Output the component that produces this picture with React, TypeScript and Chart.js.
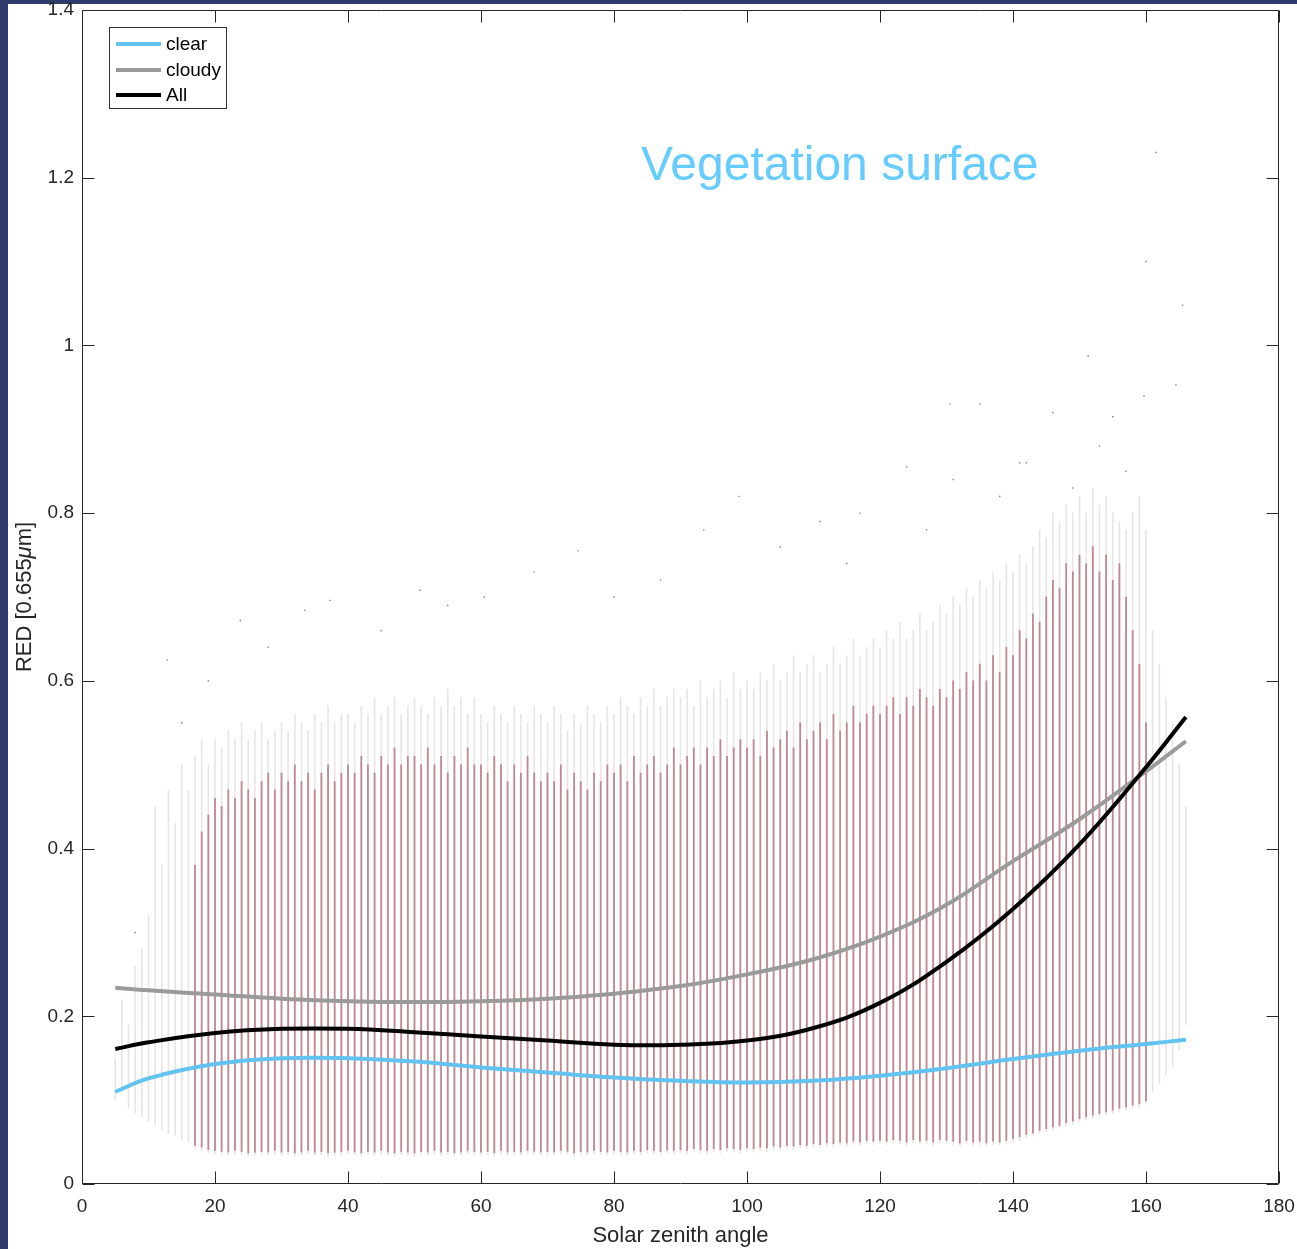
import React, { useEffect, useRef } from 'react';
import { Chart, registerables } from 'chart.js';

Chart.register(...registerables);

// Solar zenith angle columns (one column of observations per degree)
const angles: number[] = Array.from({ length: 162 }, (_, i) => 5 + i);

// lower edge of each column of points
const colLow: number[] = [
  0.10, 0.11, 0.09, 0.085, 0.08,
  0.075, 0.07, 0.065, 0.06, 0.058, 0.052, 0.05, 0.042, 0.04, 0.037,
  0.036, 0.035, 0.034, 0.036, 0.035, 0.033, 0.034, 0.035, 0.034, 0.036,
  0.034, 0.035, 0.033, 0.034, 0.036, 0.034, 0.035, 0.033, 0.034, 0.035,
  0.036, 0.034, 0.033, 0.035, 0.034, 0.036, 0.034, 0.033, 0.035, 0.034,
  0.033, 0.035, 0.034, 0.036, 0.034, 0.035, 0.033, 0.034, 0.036, 0.035,
  0.034, 0.035, 0.033, 0.036, 0.034, 0.035, 0.034, 0.036, 0.035, 0.034,
  0.035, 0.034, 0.036, 0.035, 0.033, 0.035, 0.034, 0.036, 0.035, 0.034,
  0.036, 0.035, 0.034, 0.036, 0.035, 0.037, 0.036, 0.035, 0.037, 0.036,
  0.037, 0.036, 0.038, 0.037, 0.036, 0.038, 0.037, 0.039, 0.038, 0.037,
  0.039, 0.038, 0.040, 0.039, 0.041, 0.040, 0.042, 0.041, 0.043, 0.042,
  0.044, 0.043, 0.045, 0.044, 0.046, 0.045, 0.047, 0.046, 0.048, 0.047,
  0.048, 0.047, 0.049, 0.048, 0.046, 0.049, 0.047, 0.048, 0.046, 0.049,
  0.048, 0.047, 0.045, 0.048, 0.046, 0.047, 0.045, 0.047, 0.046, 0.048,
  0.050, 0.052, 0.055, 0.057, 0.060, 0.062, 0.064, 0.066, 0.069, 0.071,
  0.074, 0.076, 0.078, 0.080, 0.082, 0.084, 0.086, 0.088, 0.090, 0.092,
  0.095, 0.11, 0.12, 0.13, 0.14, 0.16, 0.19,
];

// upper edge of the dense (red) part of each column
const denseHigh: (number | null)[] = [
  null, null, null, null, null,
  null, null, null, null, null, null, null, 0.38, 0.42, 0.44,
  0.46, 0.45, 0.47, 0.46, 0.48, 0.47, 0.46, 0.48, 0.49, 0.47,
  0.49, 0.48, 0.50, 0.48, 0.49, 0.47, 0.49, 0.50, 0.48, 0.49,
  0.50, 0.49, 0.51, 0.50, 0.49, 0.51, 0.50, 0.52, 0.50, 0.51,
  0.51, 0.50, 0.52, 0.50, 0.51, 0.49, 0.51, 0.50, 0.52, 0.50,
  0.50, 0.49, 0.51, 0.50, 0.48, 0.50, 0.49, 0.51, 0.49, 0.48,
  0.49, 0.48, 0.50, 0.47, 0.49, 0.48, 0.47, 0.49, 0.48, 0.50,
  0.49, 0.50, 0.48, 0.51, 0.49, 0.50, 0.51, 0.49, 0.50, 0.52,
  0.50, 0.51, 0.52, 0.50, 0.52, 0.51, 0.53, 0.51, 0.52, 0.53,
  0.52, 0.53, 0.51, 0.54, 0.52, 0.53, 0.54, 0.52, 0.55, 0.53,
  0.54, 0.55, 0.53, 0.56, 0.54, 0.55, 0.57, 0.55, 0.56, 0.57,
  0.56, 0.57, 0.58, 0.56, 0.58, 0.57, 0.59, 0.58, 0.57, 0.59,
  0.58, 0.60, 0.59, 0.61, 0.60, 0.62, 0.60, 0.63, 0.61, 0.64,
  0.63, 0.66, 0.65, 0.68, 0.67, 0.70, 0.72, 0.71, 0.74, 0.73,
  0.75, 0.74, 0.76, 0.73, 0.75, 0.72, 0.74, 0.70, 0.66, 0.62,
  0.55, null, null, null, null, null, null,
];

// upper edge of the sparse scattered part of each column
const sparseHigh: number[] = [
  0.15, 0.22, 0.19, 0.26, 0.28,
  0.32, 0.45, 0.38, 0.47, 0.43, 0.50, 0.47, 0.51, 0.53, 0.50,
  0.53, 0.52, 0.54, 0.53, 0.55, 0.53, 0.54, 0.55, 0.53, 0.54,
  0.55, 0.54, 0.56, 0.55, 0.54, 0.56, 0.55, 0.57, 0.55, 0.56,
  0.56, 0.55, 0.57, 0.56, 0.58, 0.56, 0.57, 0.58, 0.56, 0.57,
  0.58, 0.57, 0.56, 0.58, 0.57, 0.59, 0.57, 0.58, 0.56, 0.58,
  0.56, 0.55, 0.57, 0.56, 0.55, 0.57, 0.56, 0.55, 0.57, 0.56,
  0.55, 0.57, 0.56, 0.54, 0.56, 0.55, 0.57, 0.56, 0.55, 0.57,
  0.56, 0.58, 0.57, 0.56, 0.58, 0.57, 0.59, 0.57, 0.58, 0.59,
  0.58, 0.59, 0.57, 0.60, 0.58, 0.59, 0.60, 0.58, 0.61, 0.59,
  0.60, 0.59, 0.61, 0.60, 0.62, 0.60, 0.61, 0.63, 0.61, 0.62,
  0.63, 0.61, 0.62, 0.64, 0.62, 0.63, 0.65, 0.63, 0.64, 0.65,
  0.64, 0.66, 0.65, 0.67, 0.65, 0.66, 0.68, 0.66, 0.67, 0.69,
  0.68, 0.70, 0.69, 0.71, 0.70, 0.72, 0.71, 0.73, 0.72, 0.74,
  0.73, 0.75, 0.74, 0.76, 0.78, 0.77, 0.80, 0.79, 0.81, 0.80,
  0.82, 0.80, 0.83, 0.81, 0.82, 0.80, 0.79, 0.78, 0.80, 0.82,
  0.78, 0.66, 0.62, 0.58, 0.55, 0.50, 0.45,
];

// isolated points above the clouds
const outlierAngles: number[] = [
  161.5, 160, 165.5, 164.5, 159.7, 151.3, 155, 135, 130.5, 142, 141, 124, 131,
  98.8, 111, 74.6, 87, 50.8, 37.3, 33.5, 23.8, 12.8, 60.5, 68, 93.5, 105, 117,
  146, 153, 157, 149, 45, 28, 19, 15, 8, 55, 80, 115, 127, 138,
];
const outlierValues: number[] = [
  1.23, 1.10, 1.048, 0.953, 0.94, 0.987, 0.915, 0.93, 0.93, 0.86, 0.86, 0.855, 0.84,
  0.82, 0.79, 0.755, 0.72, 0.708, 0.696, 0.684, 0.672, 0.625, 0.70, 0.73, 0.78, 0.76, 0.80,
  0.92, 0.88, 0.85, 0.83, 0.66, 0.64, 0.60, 0.55, 0.30, 0.69, 0.70, 0.74, 0.78, 0.82,
];

// polynomial fits
const fitAngles: number[] = [5, 10, 20, 30, 40, 50, 60, 70, 80, 90, 100, 110, 120, 130, 140, 150, 160, 166];
const clearFit: number[] = [0.110, 0.126, 0.143, 0.150, 0.150, 0.146, 0.139, 0.133, 0.127, 0.123, 0.121, 0.123, 0.129, 0.138, 0.149, 0.159, 0.167, 0.172];
const cloudyFit: number[] = [0.234, 0.231, 0.226, 0.221, 0.218, 0.217, 0.218, 0.221, 0.227, 0.236, 0.250, 0.268, 0.295, 0.333, 0.385, 0.435, 0.492, 0.528];
const allFit: number[] = [0.161, 0.169, 0.180, 0.185, 0.185, 0.181, 0.176, 0.171, 0.166, 0.166, 0.171, 0.186, 0.216, 0.265, 0.328, 0.405, 0.497, 0.557];

const seriesNames = ['clear', 'cloudy', 'All'];
const seriesColors = ['#62c2f0', '#9a9a9a', '#000000'];

const xTickValues: number[] = [0, 20, 40, 60, 80, 100, 120, 140, 160, 180];
const yTickValues: number[] = [0, 0.2, 0.4, 0.6, 0.8, 1, 1.2, 1.4];

const annotationText = 'Vegetation surface';
const FONT = '"Liberation Sans", Arial, Helvetica, sans-serif';
const AXIS_COLOR = '#262626';

const matlabPlugin = {
  id: 'matlabFrame',
  afterDatasetsDraw(chart: any) {
    const { ctx, chartArea: a, scales } = chart;
    const x = scales.x;
    const y = scales.y;
    ctx.save();
    // box
    ctx.strokeStyle = AXIS_COLOR;
    ctx.lineWidth = 1;
    const L = Math.round(a.left) + 0.5;
    const R = Math.round(a.right) - 0.5;
    const T = Math.round(a.top) + 0.5;
    const B = Math.round(a.bottom) - 0.5;
    ctx.beginPath();
    ctx.rect(L, T, R - L, B - T);
    // inward ticks on all sides
    const tl = 12;
    xTickValues.forEach((v) => {
      const px = Math.round(x.getPixelForValue(v)) + 0.5;
      ctx.moveTo(px, B);
      ctx.lineTo(px, B - tl);
      ctx.moveTo(px, T);
      ctx.lineTo(px, T + tl);
    });
    yTickValues.forEach((v) => {
      const py = Math.round(y.getPixelForValue(v)) + 0.5;
      ctx.moveTo(L, py);
      ctx.lineTo(L + tl, py);
      ctx.moveTo(R, py);
      ctx.lineTo(R - tl, py);
    });
    ctx.stroke();

    // legend box
    const lx = a.left + 27;
    const ly = a.top + 17;
    ctx.fillStyle = '#ffffff';
    ctx.fillRect(lx, ly, 117, 81);
    ctx.strokeStyle = '#333333';
    ctx.strokeRect(Math.round(lx) + 0.5, Math.round(ly) + 0.5, 117, 81);
    ctx.font = `19px ${FONT}`;
    ctx.textBaseline = 'middle';
    ctx.textAlign = 'left';
    const rows = [17, 43, 68];
    seriesNames.forEach((name, i) => {
      const ry = ly + rows[i];
      ctx.strokeStyle = seriesColors[i];
      ctx.lineWidth = 4;
      ctx.beginPath();
      ctx.moveTo(lx + 7, ry);
      ctx.lineTo(lx + 52, ry);
      ctx.stroke();
      ctx.fillStyle = '#000000';
      ctx.fillText(name, lx + 57, ry + 1);
    });

    // annotation
    ctx.font = `48px ${FONT}`;
    ctx.fillStyle = '#66ccff';
    ctx.textBaseline = 'alphabetic';
    ctx.fillText(annotationText, x.getPixelForValue(84.05), y.getPixelForValue(1.197));

    // y axis title with italic mu
    ctx.translate(a.left - 57, (a.top + a.bottom) / 2);
    ctx.rotate(-Math.PI / 2);
    ctx.fillStyle = AXIS_COLOR;
    ctx.textBaseline = 'middle';
    const parts = [
      { t: 'RED [0.655', f: `22px ${FONT}` },
      { t: 'μ', f: `italic 22px ${FONT}` },
      { t: 'm]', f: `22px ${FONT}` },
    ];
    let total = 0;
    parts.forEach((p) => {
      ctx.font = p.f;
      total += ctx.measureText(p.t).width;
    });
    let cx = -total / 2;
    parts.forEach((p) => {
      ctx.font = p.f;
      ctx.fillText(p.t, cx, 0);
      cx += ctx.measureText(p.t).width;
    });
    ctx.restore();
  },
};

export default function App() {
  const ref = useRef<HTMLCanvasElement>(null);

  useEffect(() => {
    const sparseData = angles.map((ang, i) => ({ x: ang, y: [colLow[i], sparseHigh[i]] }));
    const denseData = angles
      .map((ang, i) => (denseHigh[i] == null ? null : { x: ang, y: [colLow[i] + 0.004, denseHigh[i] as number] }))
      .filter((d) => d !== null);
    const outlierData = outlierAngles.map((ang, i) => ({ x: ang, y: outlierValues[i] }));
    const fits = [clearFit, cloudyFit, allFit];

    const chart = new Chart(ref.current as HTMLCanvasElement, {
      type: 'bar',
      data: {
        datasets: [
          ...fits.map((vals, k) => ({
            type: 'line' as const,
            label: seriesNames[k],
            data: fitAngles.map((ang, i) => ({ x: ang, y: vals[i] })),
            borderColor: seriesColors[k],
            backgroundColor: seriesColors[k],
            borderWidth: 4,
            pointRadius: 0,
            tension: 0.4,
            fill: false,
            order: 3 - k,
          })),
          {
            type: 'scatter' as const,
            label: 'outliers',
            data: outlierData,
            pointRadius: 1,
            pointStyle: 'rect',
            borderWidth: 0,
            backgroundColor: 'rgba(110,80,85,0.75)',
            order: 6,
          },
          {
            type: 'bar' as const,
            label: 'dense',
            data: denseData as any,
            backgroundColor: 'rgba(150,45,60,0.5)',
            barThickness: 1.2,
            grouped: false,
            order: 7,
          },
          {
            type: 'bar' as const,
            label: 'sparse',
            data: sparseData as any,
            backgroundColor: 'rgba(160,135,138,0.22)',
            barThickness: 1,
            grouped: false,
            order: 8,
          },
        ],
      },
      options: {
        responsive: false,
        animation: false,
        events: [],
        layout: { padding: { left: 0, top: 10, right: 18, bottom: 0 } },
        plugins: { legend: { display: false }, tooltip: { enabled: false } },
        scales: {
          x: {
            type: 'linear',
            min: 0,
            max: 180,
            offset: false,
            grid: { display: false, drawTicks: false },
            border: { display: false },
            ticks: {
              stepSize: 20,
              padding: 11,
              color: AXIS_COLOR,
              font: { family: FONT, size: 19 },
              maxRotation: 0,
            },
            title: {
              display: true,
              text: 'Solar zenith angle',
              color: AXIS_COLOR,
              font: { family: FONT, size: 22 },
              padding: { top: 0, bottom: 0 },
            },
            afterFit(scale: any) {
              scale.height = 65;
              scale.paddingLeft = 0;
              scale.paddingRight = 0;
            },
          },
          y: {
            type: 'linear',
            min: 0,
            max: 1.4,
            grid: { display: false, drawTicks: false },
            border: { display: false },
            ticks: {
              stepSize: 0.2,
              padding: 8,
              color: AXIS_COLOR,
              font: { family: FONT, size: 19 },
              callback: (v: any) => String(Number(Number(v).toFixed(1))),
            },
            afterFit(scale: any) {
              scale.width = 82;
              scale.paddingTop = 0;
              scale.paddingBottom = 0;
            },
          },
        },
      },
      plugins: [matlabPlugin],
    } as any);
    return () => chart.destroy();
  }, []);

  return (
    <div
      style={{
        position: 'absolute',
        left: 0,
        top: 0,
        width: 1297,
        height: 1249,
        background: '#2e3c6d',
        overflow: 'hidden',
      }}
    >
      <div style={{ position: 'absolute', left: 8, top: 4, right: 0, bottom: 0, background: '#ffffff' }} />
      <canvas
        ref={ref}
        width={1297}
        height={1249}
        style={{ position: 'absolute', left: 0, top: 0, width: 1297, height: 1249, display: 'block' }}
      />
    </div>
  );
}
